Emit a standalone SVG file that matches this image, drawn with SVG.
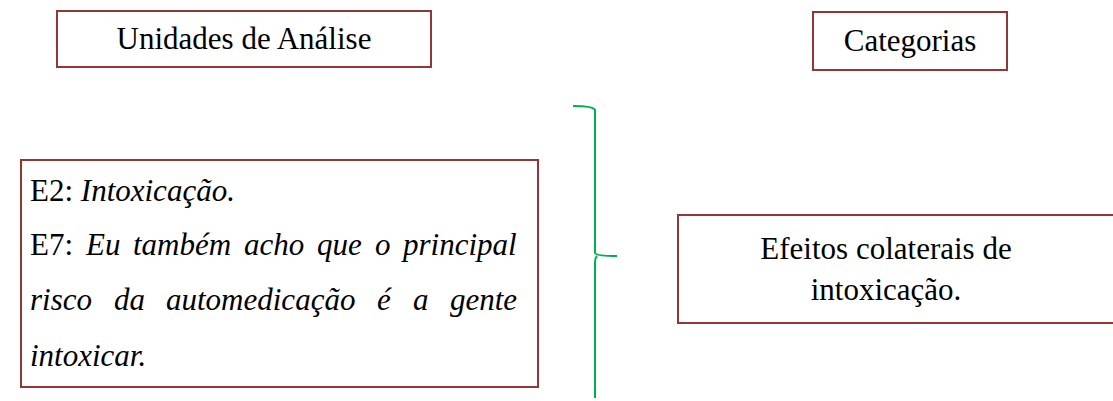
<svg xmlns="http://www.w3.org/2000/svg" width="1113" height="401" viewBox="0 0 1113 401">
<style>
.box{fill:#fff;stroke:#943634;stroke-width:2}
.brace{fill:none;stroke:#00b050;stroke-width:2}
</style>
<rect width="1113" height="401" fill="#fff"/>
<g font-family="Liberation Serif" font-size="31" fill="#000">
<g id="unidades">
<rect class="box" x="57" y="11" width="374" height="56"/>
<text x="244" y="49" text-anchor="middle">Unidades de Análise</text>
</g>
<g id="categorias">
<rect class="box" x="813" y="12" width="194" height="58"/>
<text x="910" y="51" text-anchor="middle">Categorias</text>
</g>
<g id="unidades-texto">
<rect class="box" x="21" y="160" width="517" height="227"/>
<text x="30" y="201">E2: <tspan font-style="italic">Intoxicação.</tspan></text>
<text y="255"><tspan x="30">E7:</tspan><tspan font-style="italic" x="86">Eu</tspan><tspan font-style="italic" x="133">também</tspan><tspan font-style="italic" x="244">acho</tspan><tspan font-style="italic" x="317">que</tspan><tspan font-style="italic" x="375">o</tspan><tspan font-style="italic" x="403">principal</tspan></text>
<text font-style="italic" y="310"><tspan x="30">risco</tspan><tspan x="114">da</tspan><tspan x="166">automedicação</tspan><tspan x="377">é</tspan><tspan x="413">a</tspan><tspan x="450">gente</tspan></text>
<text font-style="italic" x="30" y="366">intoxicar.</text>
</g>
<g id="efeitos">
<rect class="box" x="678" y="215" width="440" height="108"/>
<text x="886" y="259" text-anchor="middle">Efeitos colaterais de</text>
<text x="886" y="300" text-anchor="middle">intoxicação.</text>
</g>
</g>
<g id="connectors">
<path class="brace" d="M573,106 Q593,106 595,110 L595,253 Q596,256 617,256 M597,256 Q595,258 595,262 L595,398"/>
</g>
</svg>
